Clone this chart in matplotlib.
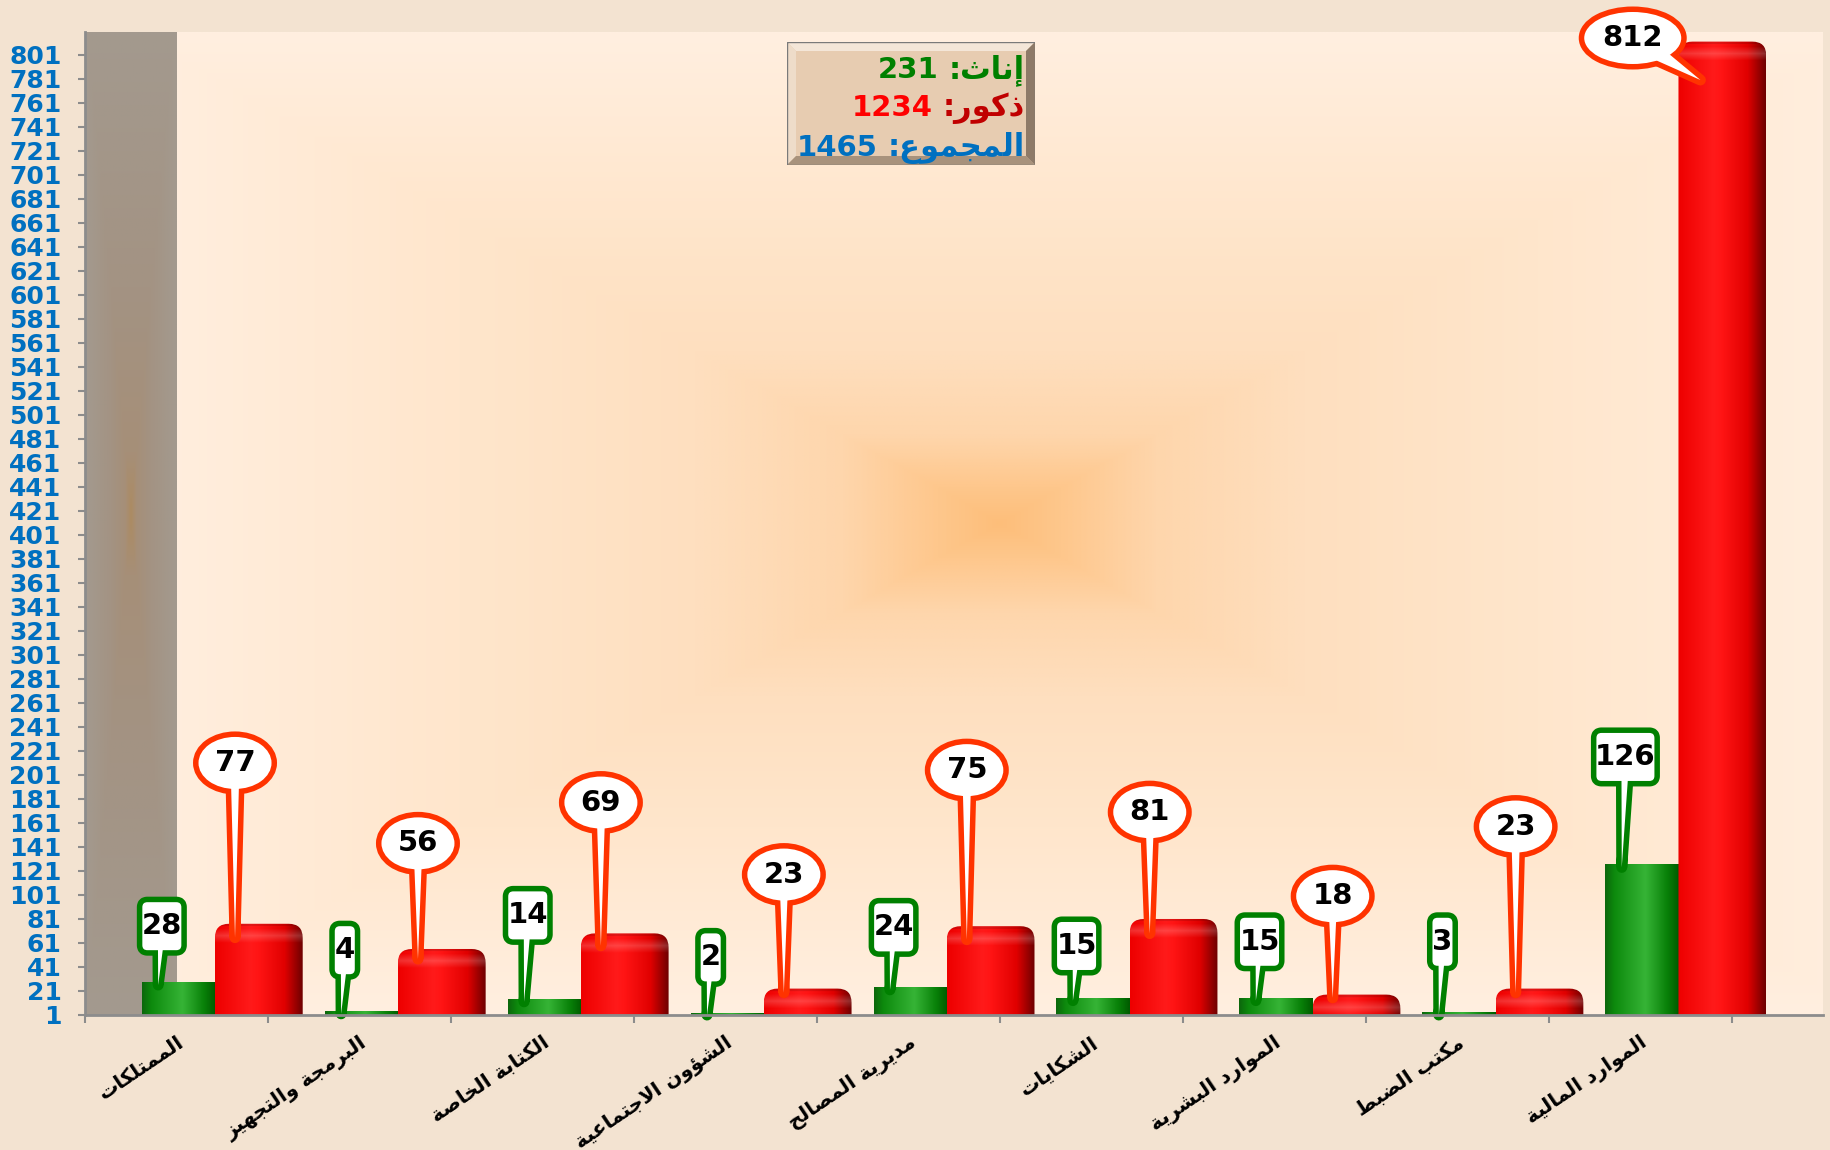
import numpy as np
import matplotlib
matplotlib.use('Agg')
import matplotlib.pyplot as plt
from matplotlib.colors import LinearSegmentedColormap
from matplotlib.patches import Ellipse, Polygon, FancyBboxPatch

# ---- data ----
categories = ['الممتلكات', 'البرمجة والتجهيز', 'الكتابة الخاصة', 'الشؤون الاجتماعية',
              'مديرية المصالح', 'الشكايات', 'الموارد البشرية', 'مكتب الضبط', 'الموارد المالية']
females = [28, 4, 14, 2, 24, 15, 15, 3, 126]
males = [77, 56, 69, 23, 75, 81, 18, 23, 812]
yticks = list(range(1, 802, 20))

summary_words = ['إناث:', 'ذكور:', 'المجموع:']
summary_values = [231, 1234, 1465]

# where the callout bubbles were dragged to (y in data units)
green_lbl_y = [75, 55, 84, 49, 74, 58.5, 62, 62, 216]
red_lbl_y = [211, 144, 178, 118, 205, 170, 100, 158, 815]

# ---- tiny arabic shaper (matplotlib has no shaping / bidi) ----
AR_FORMS = {
    'ا': (0xFE8D, 0xFE8E), 'إ': (0xFE87, 0xFE88), 'ؤ': (0xFE85, 0xFE86),
    'ة': (0xFE93, 0xFE94), 'د': (0xFEA9, 0xFEAA), 'ذ': (0xFEAB, 0xFEAC),
    'ر': (0xFEAD, 0xFEAE), 'ز': (0xFEAF, 0xFEB0), 'و': (0xFEED, 0xFEEE),
    'ب': (0xFE8F, 0xFE90, 0xFE91, 0xFE92), 'ت': (0xFE95, 0xFE96, 0xFE97, 0xFE98),
    'ث': (0xFE99, 0xFE9A, 0xFE9B, 0xFE9C), 'ج': (0xFE9D, 0xFE9E, 0xFE9F, 0xFEA0),
    'ح': (0xFEA1, 0xFEA2, 0xFEA3, 0xFEA4), 'خ': (0xFEA5, 0xFEA6, 0xFEA7, 0xFEA8),
    'ش': (0xFEB5, 0xFEB6, 0xFEB7, 0xFEB8), 'ص': (0xFEB9, 0xFEBA, 0xFEBB, 0xFEBC),
    'ض': (0xFEBD, 0xFEBE, 0xFEBF, 0xFEC0), 'ط': (0xFEC1, 0xFEC2, 0xFEC3, 0xFEC4),
    'ع': (0xFEC9, 0xFECA, 0xFECB, 0xFECC), 'ك': (0xFED9, 0xFEDA, 0xFEDB, 0xFEDC),
    'ل': (0xFEDD, 0xFEDE, 0xFEDF, 0xFEE0), 'م': (0xFEE1, 0xFEE2, 0xFEE3, 0xFEE4),
    'ن': (0xFEE5, 0xFEE6, 0xFEE7, 0xFEE8), 'ه': (0xFEE9, 0xFEEA, 0xFEEB, 0xFEEC),
    'ي': (0xFEF1, 0xFEF2, 0xFEF3, 0xFEF4),
}
LAM_ALEF = {'ا': (0xFEFB, 0xFEFC), 'إ': (0xFEF9, 0xFEFA)}


def ar(text):
    def dual(c):
        return c in AR_FORMS and len(AR_FORMS[c]) == 4
    out = []
    i = 0
    while i < len(text):
        c = text[i]
        if c not in AR_FORMS:
            out.append(c)
            i += 1
            continue
        prev_joins = i > 0 and dual(text[i - 1])
        if c == 'ل' and i + 1 < len(text) and text[i + 1] in LAM_ALEF:
            iso, fin = LAM_ALEF[text[i + 1]]
            out.append(chr(fin if prev_joins else iso))
            i += 2
            continue
        f = AR_FORMS[c]
        next_ok = i + 1 < len(text) and text[i + 1] in AR_FORMS
        if len(f) == 4 and next_ok:
            out.append(chr(f[3] if prev_joins else f[2]))
        else:
            out.append(chr(f[1] if prev_joins else f[0]))
        i += 1
    return ''.join(reversed(out))


plt.rcParams['font.family'] = ['DejaVu Sans']

W, H = 1831, 1150
fig = plt.figure(figsize=(W / 100, H / 100), dpi=100, facecolor='#F3E3D1')
ax = fig.add_axes([85 / W, 135 / H, 1738 / W, 983 / H])
XL = (-0.5, 9.0)
YL = (1, 820)
ax.set_xlim(*XL)
ax.set_ylim(*YL)
ax.set_autoscale_on(False)
ax.patch.set_visible(False)
sx = 1738 / (XL[1] - XL[0])   # px per x unit
sy = 983 / (YL[1] - YL[0])    # px per y unit

# background: rectangular gradient from the centre
xs = np.linspace(XL[0], XL[1], 900)
ys = np.linspace(YL[0], YL[1], 500)
X, Y = np.meshgrid(xs, ys)
t = np.maximum(np.abs(X - 4.5) / 4.75, np.abs(Y - 411) / 410)
bg_cmap = LinearSegmentedColormap.from_list('bg', [
    (0, '#FDBE7A'), (0.07, '#FEC78C'), (0.18, '#FED6AC'), (0.35, '#FEDFBF'),
    (0.62, '#FFE6CC'), (1, '#FFEFE0')])
ax.imshow(t, cmap=bg_cmap, vmin=0, vmax=1, extent=[*XL, *YL], origin='lower',
          aspect='auto', zorder=0, interpolation='bilinear')

# grey-brown band over the first half category
bx = np.linspace(-0.5, 0, 60)
BX, BY = np.meshgrid(bx, ys)
tb = np.maximum(np.abs(BX + 0.25) / 0.25, np.abs(BY - 418) / 420)
band_cmap = LinearSegmentedColormap.from_list('band', [
    (0, '#AC8B62'), (0.12, '#A68F78'), (0.45, '#A39383'), (1, '#A39A8F')])
ax.imshow(tb, cmap=band_cmap, vmin=0, vmax=1, extent=[-0.5, 0, *YL], origin='lower',
          aspect='auto', zorder=0.5, interpolation='bilinear')

# ---- bars ----
x = np.arange(len(categories))
gbars = ax.bar(x - 0.19, females, width=0.40, align='edge', color='#0A8A0A', zorder=2)
rbars = ax.bar(x + 0.21, males, width=0.48, align='edge', color='#FF0000', zorder=2)

green_cm = LinearSegmentedColormap.from_list('g', [
    (0, '#0C680C'), (0.12, '#0D8A0D'), (0.55, '#36B436'), (0.85, '#088008'), (1, '#005C00')])
red_cm = LinearSegmentedColormap.from_list('r', [
    (0, '#EE0000'), (0.4, '#FF1A1A'), (0.5, '#FF1414'), (0.8, '#E00000'), (1, '#700000')])

for b in gbars:
    x0, w, h = b.get_x(), b.get_width(), b.get_height()
    img = green_cm(np.linspace(0, 1, 64))[None, :, :3]
    ax.imshow(img, extent=[x0, x0 + w, 0, h], aspect='auto', zorder=2.1,
              interpolation='bilinear')

r_px = 14
for b in rbars:
    x0, w, h = b.get_x(), b.get_width(), b.get_height()
    b.set_visible(False)
    clip = FancyBboxPatch((x0, -60), w, h + 60,
                          boxstyle=f'round,pad=0,rounding_size={r_px / sx}',
                          mutation_aspect=sx / sy, facecolor='none',
                          edgecolor='none', zorder=2)
    ax.add_patch(clip)
    nrow = max(int(h * sy), 4)
    row = red_cm(np.linspace(0, 1, 64))[:, :3]
    img = np.repeat(row[None, :, :], nrow, axis=0)
    d = np.arange(nrow)[::-1][:, None, None]  # px from the top
    glow = np.clip(1 - np.abs(d - 12) / 7, 0, 1) * 0.18
    img = img + (1 - img) * glow
    img[d[:, 0, 0] < 3] *= 0.88
    im = ax.imshow(img, extent=[x0, x0 + w, 0, h], origin='lower', aspect='auto',
                   zorder=2.1, interpolation='bilinear')
    im.set_clip_path(clip)


# ---- callouts ----
def pointer(lx, ly, tx, ty, hw):
    dxp, dyp = (tx - lx) * sx, (ty - ly) * sy
    L = np.hypot(dxp, dyp)
    nx_, ny_ = -dyp / L, dxp / L
    return [(lx + hw * nx_ / sx, ly + hw * ny_ / sy),
            (lx - hw * nx_ / sx, ly - hw * ny_ / sy), (tx, ty)]


def draw_callout(shape_fn, tri, edge, z):
    stroke = 11 / 100 * 72   # about 5.5 px shows outside the white
    for fill, lw, col in ((edge, stroke, edge), ('white', 0, 'white')):
        s = shape_fn()
        s.set(facecolor=fill, edgecolor=col, linewidth=lw, joinstyle='round',
              zorder=z, clip_on=False)
        ax.add_patch(s)
        p = Polygon(tri, closed=True, facecolor=fill, edgecolor=col, linewidth=lw,
                    joinstyle='round', zorder=z, clip_on=False)
        ax.add_patch(p)


red_edge = '#FF3300'
for i, v in enumerate(males):
    s = str(v)
    lx, ly = i + 0.32, red_lbl_y[i]
    tx, ty = i + 0.32, max(v - 32, 0.85 * v)
    hw = 4.5
    if v > 700:   # bubble sits left of the tall bar
        lx, tx, hw = i - 0.04, i + 0.33, 11
    ew, eh = (36 + 24 * len(s) - 11) / sx, 52 / sy
    draw_callout(lambda: Ellipse((lx, ly), ew, eh), pointer(lx, ly, tx, ty, hw), red_edge, 6)
    ax.text(lx, ly, s, ha='center', va='center', fontsize=21, fontweight='bold',
            color='black', zorder=7, clip_on=False)

green_edge = '#008000'
for i, v in enumerate(females):
    s = str(v)
    lx, ly = i - 0.08, green_lbl_y[i]
    tx, ty = i - 0.1, max(v - 2, 1)
    bw, bh = (12 + 19 * len(s) - 11) / sx, 48 / sy
    draw_callout(lambda: FancyBboxPatch((lx - bw / 2, ly - bh / 2), bw, bh,
                                        boxstyle=f'round,pad=0,rounding_size={5 / sx}',
                                        mutation_aspect=sx / sy),
                 pointer(lx, ly, tx, ty, 4), green_edge, 4)
    ax.text(lx, ly, s, ha='center', va='center', fontsize=21, fontweight='bold',
            color='black', zorder=5)

# ---- axes styling ----
axis_grey = '#8C8C8C'
for side in ('top', 'right'):
    ax.spines[side].set_visible(False)
for side in ('left', 'bottom'):
    ax.spines[side].set_color(axis_grey)
    ax.spines[side].set_linewidth(2)
    ax.spines[side].set_zorder(8)

ax.set_yticks(yticks)
ax.set_yticklabels([str(v) for v in yticks], fontsize=18, fontweight='bold', color='#0070C0')
ax.tick_params(axis='y', length=5, width=1.5, color=axis_grey, pad=12)

ax.set_xticks(x)
ax.set_xticklabels([ar(c) for c in categories], rotation=34, ha='right',
                   rotation_mode='anchor', fontsize=14.5, fontweight='bold', color='black')
ax.tick_params(axis='x', which='major', length=0, pad=13)
ax.set_xticks(np.arange(-0.5, 9.0, 1), minor=True)
ax.tick_params(axis='x', which='minor', length=6, width=1.5, color=axis_grey)

# ---- summary box (bevelled) ----
L0, T0, BW, BH = 787, 42, 248, 123
bax = fig.add_axes([L0 / W, 1 - (T0 + BH) / H, BW / W, BH / H])
bax.set_xlim(0, 1)
bax.set_ylim(0, 1)
bax.axis('off')
ex, ey = 9 / BW, 9 / BH
bax.add_patch(Polygon([(0, 0), (1, 0), (1, 1), (0, 1)], closed=True,
                      facecolor='#E7CCB1', edgecolor='#8A8A8A', linewidth=1))
bax.add_patch(Polygon([(0, 1), (1, 1), (1 - ex, 1 - ey), (ex, 1 - ey)], closed=True,
                      facecolor='#F4E6D8', edgecolor='none'))
bax.add_patch(Polygon([(0, 0), (0, 1), (ex, 1 - ey), (ex, ey)], closed=True,
                      facecolor='#EEDCC9', edgecolor='none'))
bax.add_patch(Polygon([(0, 0), (1, 0), (1 - ex, ey), (ex, ey)], closed=True,
                      facecolor='#A8927C', edgecolor='none'))
bax.add_patch(Polygon([(1, 0), (1, 1), (1 - ex, 1 - ey), (1 - ex, ey)], closed=True,
                      facecolor='#8E7A68', edgecolor='none'))
bax.add_patch(Polygon([(0, 0), (1, 0), (1, 1), (0, 1)], closed=True,
                      facecolor='none', edgecolor='#7A7A7A', linewidth=1))

word_colors = ['#008000', '#C00000', '#0070C0']
num_colors = ['#008000', '#FF0000', '#0070C0']
baselines = [78, 116, 156]
word_texts = []
for word, col, yb in zip(summary_words, word_colors, baselines):
    tw = bax.text((1025 - L0) / BW, (T0 + BH - yb) / BH, ar(word), ha='right',
                  va='baseline', fontsize=22, fontweight='bold', color=col)
    word_texts.append(tw)
fig.canvas.draw()
inv = bax.transAxes.inverted()
for tw, v, col, yb in zip(word_texts, summary_values, num_colors, baselines):
    bb = tw.get_window_extent()
    xl = inv.transform((bb.x0 - 10, 0))[0]
    bax.text(xl, (T0 + BH - yb) / BH, str(v), ha='right', va='baseline',
             fontsize=21, fontweight='bold', color=col)

fig.savefig('out.png', dpi=100, facecolor=fig.get_facecolor())
